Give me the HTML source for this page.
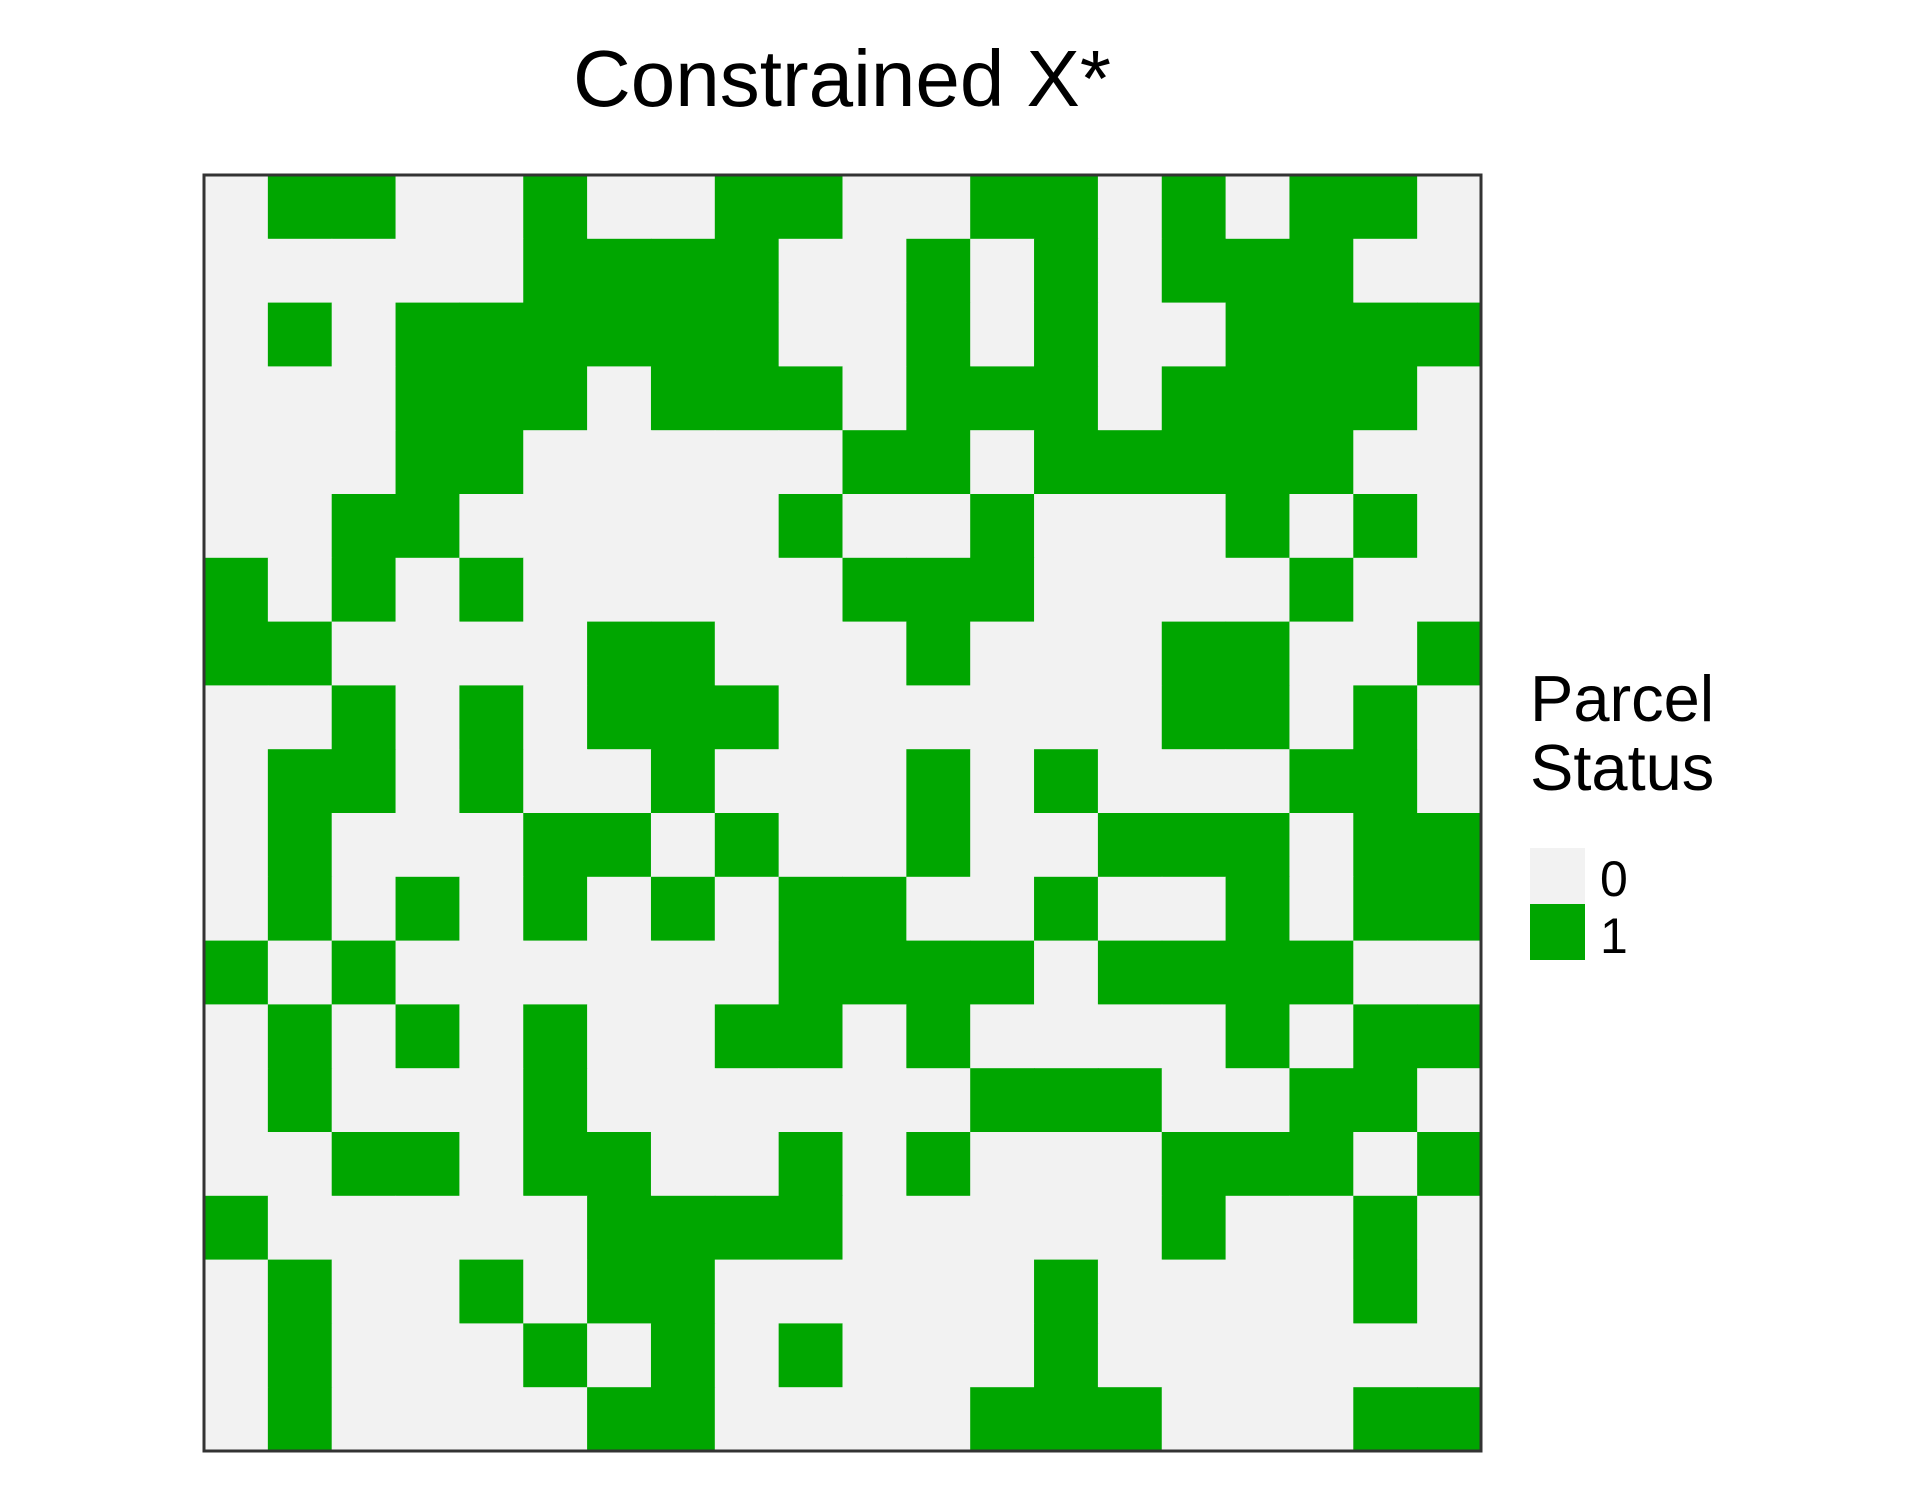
<!DOCTYPE html>
<html><head><meta charset="utf-8"><style>
body{margin:0;background:#fff;width:1920px;height:1500px;overflow:hidden}
svg text{font-family:"Liberation Sans",sans-serif;fill:#000}
</style></head><body>
<svg id="chart" width="1920" height="1500" viewBox="0 0 1920 1500" xmlns="http://www.w3.org/2000/svg">
<text x="842" y="106" font-size="80" text-anchor="middle">Constrained X*</text>
<g id="cells"></g>
<rect x="204" y="175" width="1277" height="1276" fill="none" stroke="#333" stroke-width="3"/>
<g>
<text x="1530" y="721" font-size="65">Parcel</text>
<text x="1530" y="790" font-size="65">Status</text>
<rect x="1530" y="848" width="55" height="56" fill="#F2F2F2"/>
<rect x="1530" y="904" width="55" height="56" fill="#00A600"/>
<text x="1600" y="896" font-size="50">0</text>
<text x="1600" y="953" font-size="50">1</text>
</g>
</svg>
<script>
const rowsData = [
"01100100110011010110",
"00000111100101011100",
"01011111100101001111",
"00011101110111011110",
"00011000001101111100",
"00110000010010001010",
"10101000001110000100",
"11000011000100011001",
"00101011100000011010",
"01101001000101000110",
"01000110100100111011",
"01010101011001001011",
"10100000011110111100",
"01010100110100001011",
"01000100000011100110",
"00110110010100011101",
"10000011110000010010",
"01001011000001000010",
"01000101010001000000",
"01000011000011100011"
];
const colorValues = ["#F2F2F2", "#00A600"];
const x0 = 204, y0 = 175, W = 1277, H = 1276;
const nCols = 20, nRows = 20;
function xScale(c){ return x0 + c * W / nCols; }
function yScale(r){ return y0 + r * H / nRows; }
const g = document.getElementById('cells');
const NS = "http://www.w3.org/2000/svg";
rowsData.forEach((row, r) => {
  row.split('').forEach((v, c) => {
    const rect = document.createElementNS(NS, 'rect');
    rect.setAttribute('x', xScale(c));
    rect.setAttribute('y', yScale(r));
    rect.setAttribute('width', xScale(c + 1) - xScale(c) + 0.5);
    rect.setAttribute('height', yScale(r + 1) - yScale(r) + 0.5);
    rect.setAttribute('fill', colorValues[+v]);
    
    
    g.appendChild(rect);
  });
});
</script>
</body></html>
